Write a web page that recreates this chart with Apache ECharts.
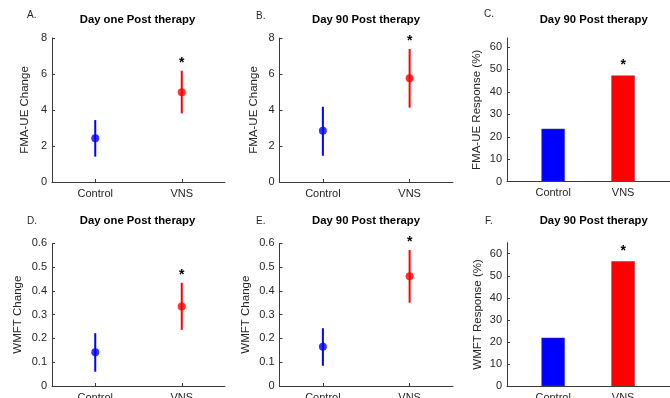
<!DOCTYPE html>
<html>
<head>
<meta charset="utf-8">
<script src="https://cdn.jsdelivr.net/npm/echarts@6/dist/echarts.min.js"></script>
<style>html,body{margin:0;padding:0;background:#fff}#chart{width:670px;height:398px}</style>
</head>
<body>
<div id="chart"></div>
<script>
// ---- data ----
const categories = ['Control', 'VNS'];
const significant = [false, true];

const fmaDay1Mean = [2.43, 4.98];
const fmaDay1Low  = [1.41, 3.81];
const fmaDay1High = [3.44, 6.18];

const fmaDay90Mean = [2.85, 5.76];
const fmaDay90Low  = [1.46, 4.13];
const fmaDay90High = [4.18, 7.39];

const fmaResponse = [23.6, 47.3];

const wmftDay1Mean = [0.142, 0.334];
const wmftDay1Low  = [0.060, 0.236];
const wmftDay1High = [0.222, 0.434];

const wmftDay90Mean = [0.165, 0.461];
const wmftDay90Low  = [0.085, 0.350];
const wmftDay90High = [0.243, 0.572];

const wmftResponse = [22.0, 56.6];

const fmaTicks = [0, 2, 4, 6, 8];
const wmftTicks = [0, 0.1, 0.2, 0.3, 0.4, 0.5, 0.6];
const responseTicks = [0, 10, 20, 30, 40, 50, 60];

const panelLetters = ['A.', 'B.', 'C.', 'D.', 'E.', 'F.'];
const panelTitles = ['Day one Post therapy', 'Day 90 Post therapy', 'Day 90 Post therapy',
                     'Day one Post therapy', 'Day 90 Post therapy', 'Day 90 Post therapy'];
const yNames = ['FMA-UE Change', 'FMA-UE Change', 'FMA-UE Response (%)',
                'WMFT Change', 'WMFT Change', 'WMFT Response (%)'];

// ---- styles ----
const groupColors = ['#0000ff', '#ff0000'];
const axisColor = '#262626';
const lineColor = '#3a3a3a';
const FONT = 'Liberation Sans, Arial, sans-serif';

const chart = echarts.init(document.getElementById('chart'), null, {renderer: 'canvas'});

const grids = [
  {left: 52,    top: 38,    width: 173,   height: 144},
  {left: 279.5, top: 38,    width: 173.5, height: 144},
  {left: 507,   top: 38,    width: 163,   height: 143.7},
  {left: 52,    top: 243.3, width: 173,   height: 142.7},
  {left: 279.5, top: 243.3, width: 173.5, height: 142.7},
  {left: 507,   top: 242.7, width: 163,   height: 143.5}
];
const nameGaps = [21, 20, 24, 28, 28, 23];
const yMax = [8, 8, 64, 0.6, 0.6, 65];
const yTicks = [fmaTicks, fmaTicks, responseTicks, wmftTicks, wmftTicks, responseTicks];
const isBar = [false, false, true, false, false, true];

const xAxes = [], yAxes = [], series = [];

grids.forEach((g, k) => {
  if (isBar[k]) {
    xAxes.push({
      gridIndex: k, type: 'value', min: -0.66, max: 1.67,
      splitLine: {show: false},
      axisLine: {show: true, onZero: false, lineStyle: {color: lineColor, width: 1}},
      axisTick: {show: true, inside: true, length: 3, customValues: [0, 1], lineStyle: {color: lineColor}},
      axisLabel: {show: true, customValues: [0, 1], formatter: v => categories[Math.round(v)] || '',
                  color: axisColor, fontSize: 11, fontFamily: FONT, margin: 6}
    });
  } else {
    xAxes.push({
      gridIndex: k, type: 'category', data: categories, boundaryGap: true,
      axisLine: {show: true, onZero: false, lineStyle: {color: lineColor, width: 1}},
      axisTick: {show: true, inside: true, length: 3, alignWithLabel: true, lineStyle: {color: lineColor}},
      axisLabel: {color: axisColor, fontSize: 11, fontFamily: FONT, margin: 6},
      splitLine: {show: false}
    });
  }
  yAxes.push({
    gridIndex: k, type: 'value', min: 0, max: yMax[k],
    name: yNames[k], nameLocation: 'middle', nameGap: nameGaps[k],
    nameTextStyle: {color: axisColor, fontSize: 11.5, fontFamily: FONT},
    splitLine: {show: false},
    axisLine: {show: true, onZero: false, lineStyle: {color: lineColor, width: 1}},
    axisTick: {show: true, inside: true, length: 3, customValues: yTicks[k], lineStyle: {color: lineColor}},
    axisLabel: {customValues: yTicks[k], color: axisColor, fontSize: 11, fontFamily: FONT, margin: 5,
                formatter: v => String(+v.toFixed(2))}
  });
});

function addErrorPanel(k, mean, low, high) {
  series.push({
    type: 'custom', xAxisIndex: k, yAxisIndex: k, clip: false, z: 2,
    encode: {x: 0, y: [1, 2]},
    data: categories.map((c, i) => [i, low[i], high[i], significant[i] ? 1 : 0]),
    renderItem: function (params, api) {
      const i = api.value(0);
      const lo = api.coord([i, api.value(1)]);
      const hi = api.coord([i, api.value(2)]);
      const children = [{
        type: 'line',
        shape: {x1: lo[0], y1: lo[1], x2: hi[0], y2: hi[1]},
        style: {stroke: groupColors[i], lineWidth: 2}
      }];
      if (api.value(3)) {
        children.push({
          type: 'text',
          style: {text: '*', x: hi[0], y: hi[1] - 8, align: 'center', verticalAlign: 'middle',
                  font: 'bold 14px ' + FONT, fill: '#000'}
        });
      }
      return {type: 'group', children: children};
    }
  });
  series.push({
    type: 'scatter', xAxisIndex: k, yAxisIndex: k, z: 3, symbol: 'circle', symbolSize: 8,
    data: categories.map((c, i) => ({value: [i, mean[i]], itemStyle: {color: groupColors[i]}})),
    silent: true
  });
}

function addBarPanel(k, values) {
  series.push({
    type: 'bar', xAxisIndex: k, yAxisIndex: k, barWidth: 23.5,
    data: categories.map((c, i) => ({
      value: [i, values[i]],
      itemStyle: {color: groupColors[i], borderColor: '#555', borderWidth: 0.5},
      label: {show: significant[i], position: 'top', distance: 3, formatter: '*',
              fontSize: 14, fontWeight: 'bold', fontFamily: FONT, color: '#000'}
    }))
  });
}

addErrorPanel(0, fmaDay1Mean, fmaDay1Low, fmaDay1High);
addErrorPanel(1, fmaDay90Mean, fmaDay90Low, fmaDay90High);
addBarPanel(2, fmaResponse);
addErrorPanel(3, wmftDay1Mean, wmftDay1Low, wmftDay1High);
addErrorPanel(4, wmftDay90Mean, wmftDay90Low, wmftDay90High);
addBarPanel(5, wmftResponse);

const titleCenters = [[137.5, 20], [366, 20], [593.7, 20], [137.5, 221], [366, 221], [593.7, 221]];
const letterPos = [[27, 15], [256, 16.5], [484, 14], [27, 221], [256, 221], [485, 221.5]];
const graphics = [];
titleCenters.forEach((p, k) => {
  graphics.push({type: 'text', x: p[0], y: p[1], silent: true,
    style: {text: panelTitles[k], align: 'center', verticalAlign: 'middle',
            font: 'bold 11.3px ' + FONT, fill: '#000'}});
  graphics.push({type: 'text', x: letterPos[k][0], y: letterPos[k][1], silent: true,
    style: {text: panelLetters[k], align: 'left', verticalAlign: 'middle',
            font: '10px ' + FONT, fill: '#262626'}});
});

chart.setOption({
  animation: false,
  backgroundColor: '#ffffff',
  grid: grids.map(g => Object.assign({containLabel: false, outerBoundsMode: 'none'}, g)),
  xAxis: xAxes,
  yAxis: yAxes,
  series: series,
  graphic: graphics
});
</script>
</body>
</html>
